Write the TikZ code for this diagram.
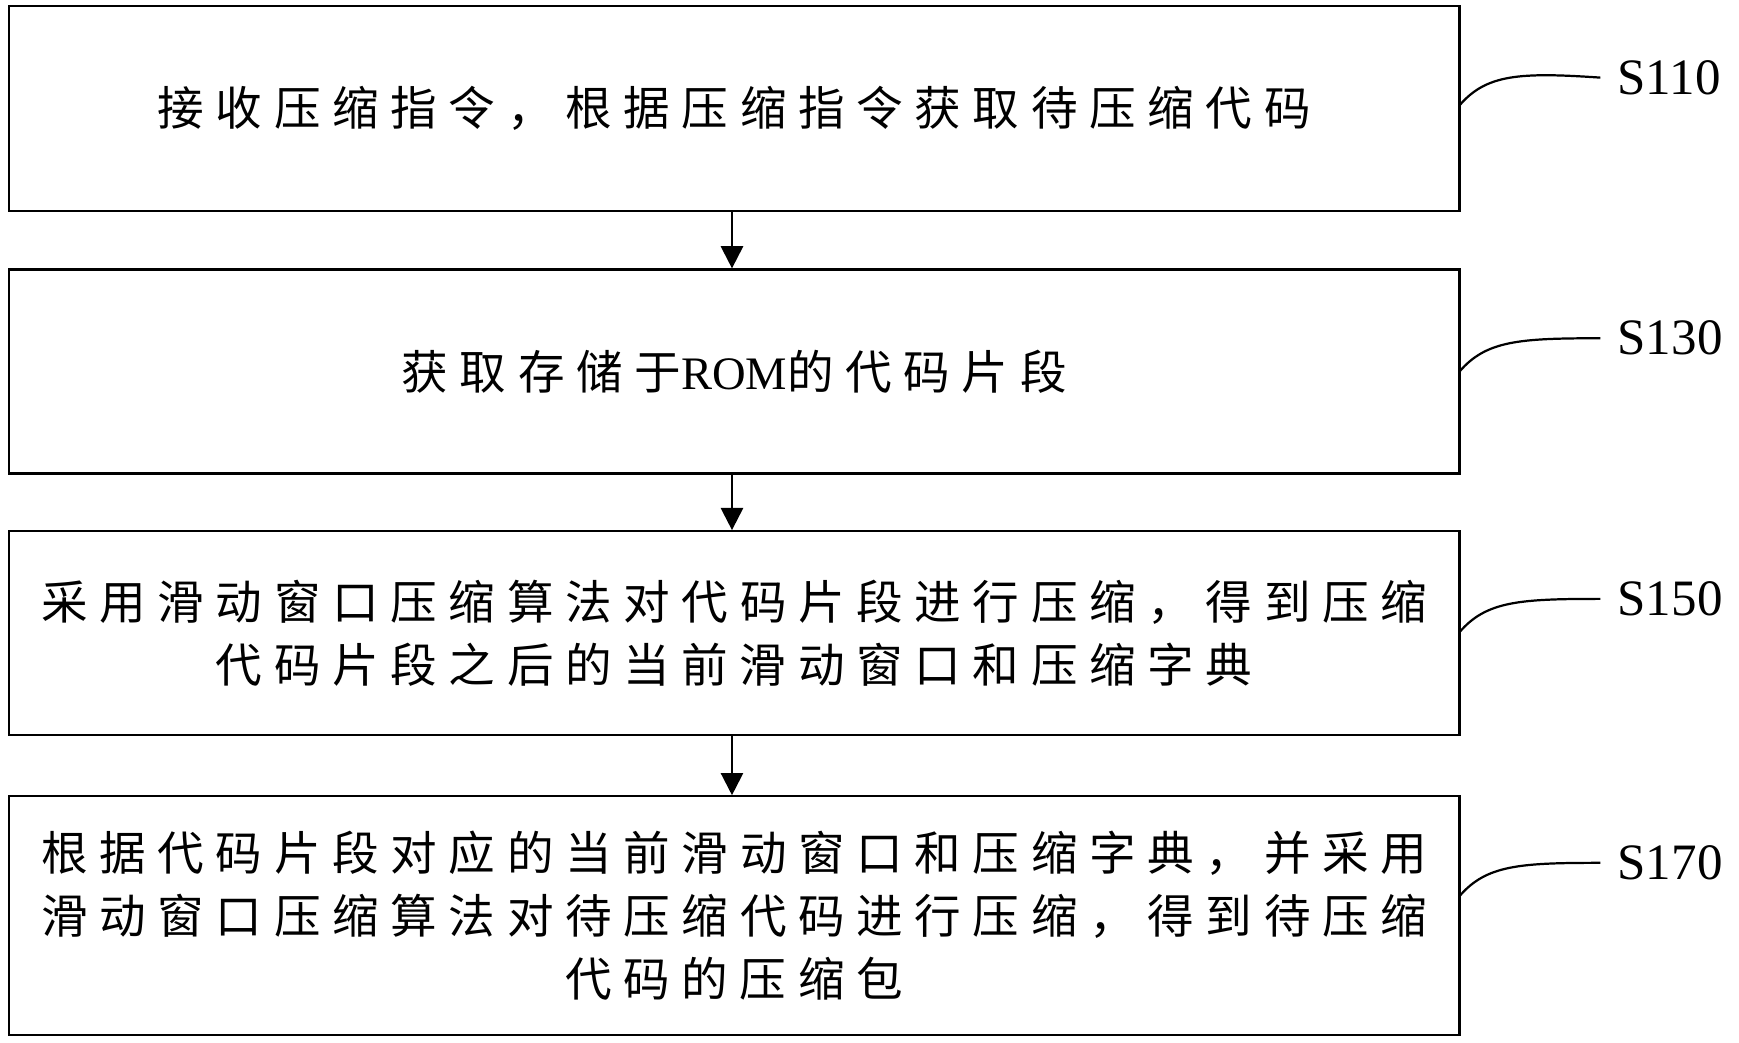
\documentclass[tikz,border=0pt]{standalone}
\usepackage{fontspec}
\setmainfont{Liberation Serif}
\newfontfamily\cjk[LetterSpace=25]{Noto Sans CJK SC}
\usetikzlibrary{positioning,arrows.meta}
\begin{document}
\begin{tikzpicture}[x=1pt,y=1pt,
  stepbox/.style={draw,line width=2pt,minimum width=1308pt,align=center,inner sep=0pt,
    font=\fontsize{42}{57}\selectfont\cjk},
  flow/.style={-{Triangle[length=20pt,width=20pt]},line width=2pt},
  tag/.style={font=\fontsize{46}{52}\selectfont,anchor=west},
  lead/.style={line width=2pt}]
\useasboundingbox (0,0) rectangle (1568,940);
% steps
\node[stepbox,minimum height=185pt] (s110) at (662,842) {接收压缩指令，根据压缩指令获取待压缩代码};
\node[stepbox,minimum height=184pt] (s130) at (662,605) {获取存储于{\fontspec{Liberation Serif}ROM}的代码片段};
\node[stepbox,minimum height=184pt] (s150) at (662,369) {采用滑动窗口压缩算法对代码片段进行压缩，得到压缩\\代码片段之后的当前滑动窗口和压缩字典};
\node[stepbox,minimum height=215pt] (s170) at (662,114.5) {根据代码片段对应的当前滑动窗口和压缩字典，并采用\\滑动窗口压缩算法对待压缩代码进行压缩，得到待压缩\\代码的压缩包};
\draw[flow] ([xshift=-2pt]s110.south) -- ([xshift=-2pt]s130.north);
\draw[flow] ([xshift=-2pt]s130.south) -- ([xshift=-2pt]s150.north);
\draw[flow] ([xshift=-2pt]s150.south) -- ([xshift=-2pt]s170.north);
% labels
\node[tag] (t110) at (1455,870) {S110};
\node[tag] (t130) at (1455,635) {S130};
\node[tag] (t150) at (1455,400) {S150};
\node[tag] (t170) at (1455,162) {S170};
\foreach \s/\y in {110/845,130/605,150/370,170/132}{
  \draw[lead] (1316,\y) .. controls (1340,\y+28) and (1370,\y+30) .. ([xshift=-12pt]t\s.west);
}
\end{tikzpicture}
\end{document}
